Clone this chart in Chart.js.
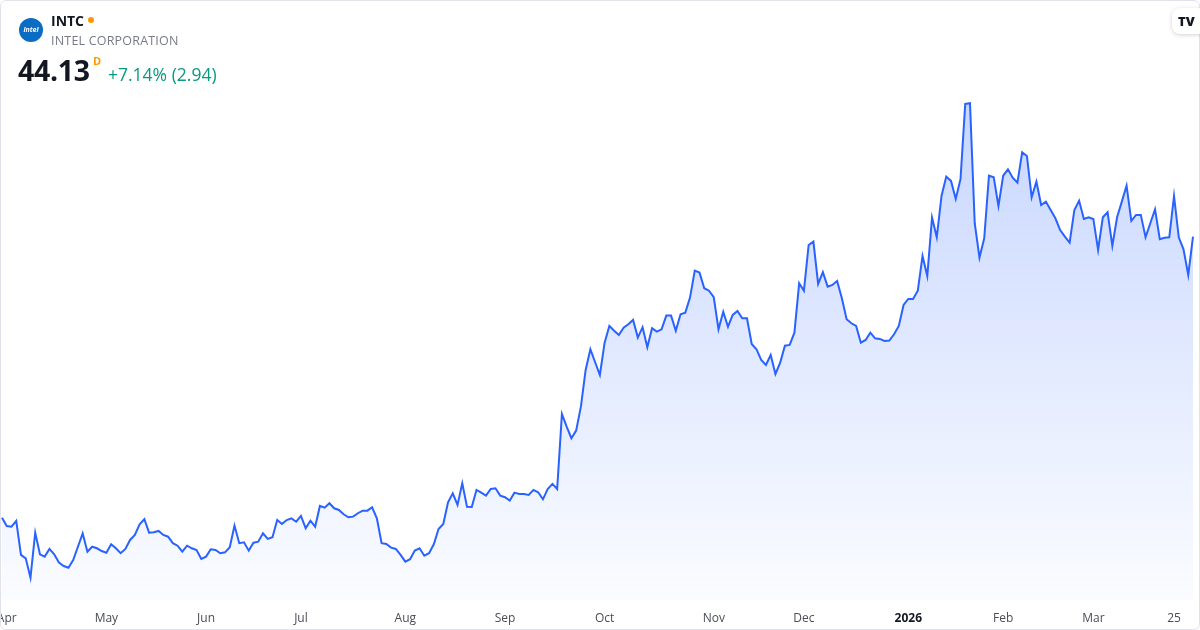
<!DOCTYPE html>
<html>
<head>
<meta charset="utf-8">
<script src="https://cdn.jsdelivr.net/npm/chart.js@4.4.1/dist/chart.umd.min.js"></script>
<style>
  html, body { margin: 0; padding: 0; background: #fff; }
  body { width: 1200px; height: 630px; overflow: hidden; font-family: "Open Sans", "Noto Sans", sans-serif; }
  .frame { position: absolute; left: 0; top: 0; width: 1198px; height: 628px; border: 1px solid #e0e3eb; border-radius: 6px; }
  #wrap { position: absolute; left: 0; top: 0; width: 1200px; height: 630px; }
  .logo { position: absolute; left: 19px; top: 18px; width: 24px; height: 24px; border-radius: 50%; background: #0a6cc2; color: #fff; font-size: 7px; font-weight: bold; text-align: center; line-height: 24px; font-style: italic; }
  .sym { position: absolute; left: 51px; top: 11px; font-size: 14px; font-weight: bold; color: #131722; }
  .dot { position: absolute; left: 88px; top: 17px; width: 6px; height: 6px; border-radius: 50%; background: #ff9800; }
  .name { position: absolute; left: 51px; top: 32px; font-size: 12.5px; color: #787b86; letter-spacing: 0.2px; }
  .price { position: absolute; left: 18px; top: 51px; font-size: 28.5px; font-weight: bold; color: #131722; letter-spacing: -0.3px; }
  .sup { position: absolute; left: 93px; top: 53px; font-size: 11px; font-weight: bold; color: #ff9800; }
  .chg { position: absolute; left: 108px; top: 62px; font-size: 17.5px; color: #089981; }
  .tv { position: absolute; left: 1172px; top: 8px; width: 34px; height: 26px; border-radius: 8px; background: #fff; box-shadow: 0 1px 4px rgba(0,0,0,0.18); font-size: 13px; font-weight: 900; color: #131722; line-height: 26px; padding-left: 6px; box-sizing: border-box; }
</style>
</head>
<body>
<div id="wrap"><canvas id="GraficoIntc" width="1200" height="630"></canvas></div>
<div class="frame"></div>
<div class="logo">intel</div>
<div class="sym">INTC</div>
<div class="dot"></div>
<div class="name">INTEL CORPORATION</div>
<div class="price">44.13</div>
<div class="sup">D</div>
<div class="chg">+7.14% (2.94)</div>
<div class="tv">TV</div>
<script>
// daily closes, 31 Mar 2025 -> 31 Mar 2026
var precos = [
  22.56, 21.92, 21.87, 22.31, 19.70, 19.44, 17.95, 21.41, 19.75, 19.57,
  20.16, 19.75, 19.11, 18.85, 18.72, 19.31, 20.33, 21.36, 19.95, 20.33,
  20.21, 20.00, 19.87, 20.52, 20.21, 19.83, 20.16, 20.85, 21.23, 22.05,
  22.44, 21.41, 21.44, 21.54, 21.23, 21.10, 20.60, 20.41, 19.95, 20.41,
  20.21, 20.08, 19.39, 19.57, 20.13, 20.08, 19.83, 19.90, 20.29, 21.95,
  20.60, 20.67, 20.03, 20.64, 20.72, 21.36, 20.93, 21.06, 22.38, 22.08,
  22.38, 22.51, 22.25, 22.69, 21.75, 22.33, 21.87, 23.46, 23.33, 23.67,
  23.28, 23.15, 22.82, 22.59, 22.64, 22.90, 23.10, 23.10, 23.36, 22.51,
  20.60, 20.54, 20.26, 20.16, 19.70, 19.18, 19.37, 20.03, 20.21, 19.64,
  19.83, 20.52, 21.69, 22.08, 23.74, 24.43, 23.54, 25.20, 23.40, 23.38,
  24.69, 24.48, 24.25, 24.76, 24.82, 24.25, 24.13, 23.87, 24.48, 24.38,
  24.38, 24.30, 24.69, 24.51, 23.97, 24.76, 25.15, 24.76, 30.52, 29.55,
  28.66, 29.24, 31.08, 33.90, 35.49, 34.49, 33.51, 35.99, 37.28, 36.91,
  36.58, 37.14, 37.41, 37.74, 36.38, 37.18, 35.64, 37.10, 36.84, 37.02,
  38.07, 38.07, 36.91, 38.17, 38.30, 39.45, 41.52, 41.37, 40.17, 39.98,
  39.48, 37.02, 38.37, 37.22, 38.12, 38.43, 37.87, 37.87, 35.89, 35.49,
  34.67, 34.28, 35.05, 33.59, 34.46, 35.76, 35.82, 36.76, 40.55, 39.98,
  43.49, 43.75, 40.50, 41.40, 40.29, 40.42, 40.73, 39.40, 37.79, 37.48,
  37.28, 35.99, 36.20, 36.76, 36.33, 36.28, 36.12, 36.15, 36.64, 37.28,
  38.89, 39.35, 39.35, 39.98, 42.65, 41.11, 45.59, 44.08, 47.25, 48.74,
  48.41, 47.02, 48.54, 54.32, 54.37, 45.16, 42.52, 44.01, 48.81, 48.69,
  46.49, 48.81, 49.30, 48.66, 48.28, 50.61, 50.32, 47.15, 48.35, 46.56,
  46.82, 46.18, 45.54, 44.64, 44.13, 43.67, 46.18, 46.89, 45.49, 45.62,
  45.49, 43.11, 45.62, 46.00, 43.42, 45.62, 46.82, 48.04, 45.34, 45.80,
  45.80, 44.08, 45.16, 46.23, 43.93, 44.05, 44.08, 47.25, 44.08, 43.16,
  41.19, 44.13
];

// first trading day of each month (index into precos) and its label
var posMarcas = [1, 22, 43, 63, 85, 106, 127, 150, 169, 191, 211, 230, 247];
var textoMarcas = ['Apr', 'May', 'Jun', 'Jul', 'Aug', 'Sep', 'Oct', 'Nov', 'Dec', '2026', 'Feb', 'Mar', '25'];

var yMin = 16.24;
var yMax = 57.69;

var rotulos = precos.map(function (v, i) { return i; });

function PegarMarca(i) {
    var k = posMarcas.indexOf(i);
    return k >= 0 ? textoMarcas[k] : null;
}

var ctx = document.getElementById('GraficoIntc').getContext('2d');
var grafico = new Chart(ctx, {
    type: 'line',
    data: {
        labels: rotulos,
        datasets: [
            {
                label: 'INTC',
                data: precos,
                borderColor: '#2962ff',
                borderWidth: 2,
                pointRadius: 0,
                tension: 0,
                fill: 'start',
                backgroundColor: function (c) {
                    var area = c.chart.chartArea;
                    if (!area) return 'rgba(41,98,255,0.15)';
                    var g = c.chart.ctx.createLinearGradient(0, area.top, 0, area.bottom);
                    g.addColorStop(0, 'rgba(41,98,255,0.28)');
                    g.addColorStop(1, 'rgba(41,98,255,0.02)');
                    return g;
                }
            }
        ]
    },
    options: {
        responsive: false,
        animation: false,
        layout: { padding: { top: 60, left: 2, right: 7, bottom: 0 } },
        plugins: {
            legend: { display: false },
            tooltip: { enabled: false }
        },
        scales: {
            x: {
                grid: { display: false, drawTicks: false },
                border: { display: false },
                afterFit: function (s) {
                    s.height = 30;
                    s.paddingLeft = 0;
                    s.paddingRight = 0;
                },
                ticks: {
                    autoSkip: false,
                    maxRotation: 0,
                    padding: 11,
                    callback: function (v, i) { return PegarMarca(i); },
                    color: function (c) { return c.tick && c.tick.label === '2026' ? '#131722' : '#4a4d57'; },
                    font: function (c) {
                        var b = c.tick && c.tick.label === '2026';
                        return { family: '"Open Sans", "Noto Sans", sans-serif', size: 12, weight: b ? 'bold' : 'normal' };
                    }
                }
            },
            y: {
                display: false,
                min: yMin,
                max: yMax
            }
        }
    }
});
</script>
</body>
</html>
